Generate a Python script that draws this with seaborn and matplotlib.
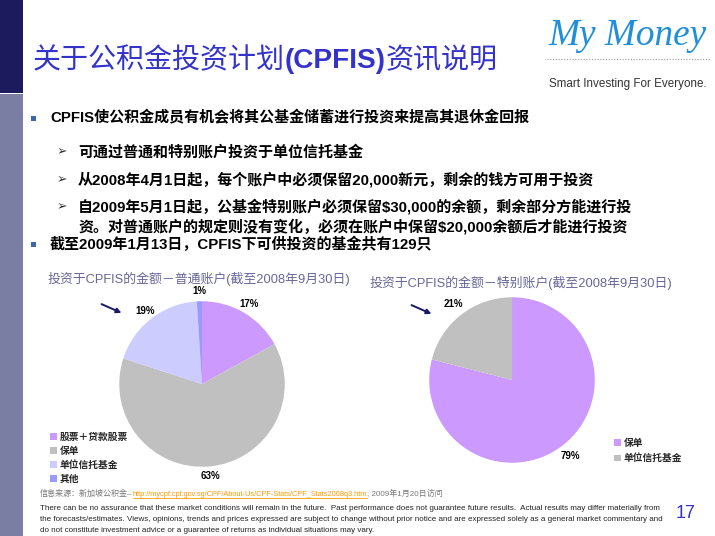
import numpy as np
import pandas as pd
import seaborn as sns
import matplotlib
matplotlib.use("Agg")
import matplotlib.pyplot as plt
from matplotlib.patches import Rectangle, FancyArrowPatch
from matplotlib.lines import Line2D
from matplotlib.font_manager import FontProperties
from matplotlib import font_manager

# ---------------- data ----------------
title_parts = ["关于公积金投资计划", "(CPFIS)", "资讯说明"]
bullet_lines = [
    "CPFIS使公积金成员有机会将其公基金储蓄进行投资来提高其退休金回报",
    "截至2009年1月13日，CPFIS下可供投资的基金共有129只",
]
sub_lines = [
    "可通过普通和特别账户投资于单位信托基金",
    "从2008年4月1日起，每个账户中必须保留20,000新元，剩余的钱方可用于投资",
    "自2009年5月1日起，公基金特别账户必须保留$30,000的余额，剩余部分方能进行投",
]
sub_cont = "资。对普通账户的规定则没有变化，必须在账户中保留$20,000余额后才能进行投资"

left_title = "投资于CPFIS的金额－普通账户(截至2008年9月30日)"
left_labels = ["股票＋贷款股票", "保单", "单位信托基金", "其他"]
left_values = [17, 63, 19, 1]
left_colors = ["#cc99ff", "#c0c0c0", "#ccccff", "#9999ff"]

right_title = "投资于CPFIS的金额－特别账户(截至2008年9月30日)"
right_labels = ["保单", "单位信托基金"]
right_values = [79, 21]
right_colors = ["#cc99ff", "#c0c0c0"]

source_parts = ["信息来源：新加坡公积金–",
                "http://mycpf.cpf.gov.sg/CPF/About-Us/CPF-Stats/CPF_Stats2008q3.htm",
                "; 2009年1月20日访问"]
disclaimer = [
    "There can be no assurance that these market conditions will remain in the future.  Past performance does not guarantee future results.  Actual results may differ materially from",
    "the forecasts/estimates. Views, opinions, trends and prices expressed are subject to change without prior notice and are expressed solely as a general market commentary and",
    "do not constitute investment advice or a guarantee of returns as individual situations may vary.",
]
page_number = "17"
logo_text = "My Money"
logo_sub = "Smart Investing For Everyone."

# ---------------- setup ----------------
sns.set_theme(style="white")
plt.rcParams['font.family'] = ['Liberation Sans', 'Noto Sans CJK SC', 'DejaVu Sans']

names = {f.name for f in font_manager.fontManager.ttflist}
NARROW = 'Liberation Sans Narrow' if 'Liberation Sans Narrow' in names else 'Liberation Sans'

W, H = 715, 536
fig = plt.figure(figsize=(W / 100, H / 100), dpi=100)
fig.patch.set_facecolor('white')
renderer = fig.canvas.get_renderer()


def fx(px):
    return px / W


def fy(py):
    return 1 - py / H


def chain(x, y, parts, va='baseline'):
    cur = x
    out = []
    for s, kw in parts:
        t = fig.text(fx(cur), fy(y), s, ha='left', va=va, **kw)
        bb = t.get_window_extent(renderer)
        cur = bb.x1
        out.append((t, bb))
    return out


def fit_size(s, width, size0, **kw):
    t = fig.text(0, 0, s, fontsize=size0, **kw)
    bb = t.get_window_extent(renderer)
    t.remove()
    return size0 * width / bb.width


# left sidebar
fig.add_artist(Rectangle((0, fy(93)), fx(23), 93 / H, transform=fig.transFigure,
                         facecolor='#1b1b5e', edgecolor='none'))
fig.add_artist(Rectangle((0, 0), fx(23), fy(94), transform=fig.transFigure,
                         facecolor='#7b7ea3', edgecolor='none'))

# title
CJK = ['Noto Sans CJK SC', 'DejaVu Sans']
LAT_CJK = ['Liberation Sans', 'Noto Sans CJK SC', 'DejaVu Sans']
tcol = '#3333cc'
tsize = 20.2
chain(33, 68, [(title_parts[0], dict(family=CJK, fontsize=tsize, color=tcol)),
               (title_parts[1], dict(family=['Liberation Sans'], fontsize=tsize,
                                     fontweight='bold', color=tcol)),
               (title_parts[2], dict(family=CJK, fontsize=tsize, color=tcol))])

# logo
lkw = dict(family=['Liberation Serif'], style='italic', color='#1f8fda')
ls = fit_size(logo_text, 158, 30, **lkw)
fig.text(fx(627), fy(36), logo_text, ha='center', va='center', fontsize=ls, **lkw)
fig.add_artist(Line2D([fx(547), fx(710)], [fy(59), fy(59)], transform=fig.transFigure,
                      color='#999999', lw=0.8, ls=(0, (1, 1.5))))
skw = dict(family=[NARROW], color='#333333')
ss = fit_size(logo_sub, 158, 9, **skw)
fig.text(fx(628), fy(84), logo_sub, ha='center', va='center', fontsize=ss, **skw)

# bullets
bcol = '#3f67ad'
for yy, s in [(118, bullet_lines[0]), (244, bullet_lines[1])]:
    fig.add_artist(Rectangle((fx(31), fy(yy + 2.5)), 5 / W, 5 / H, transform=fig.transFigure,
                             facecolor=bcol, edgecolor='none'))
    fig.text(fx(50), fy(yy), s, ha='left', va='center', fontsize=10.8,
             family=LAT_CJK, fontweight='bold', color='black')

for yy, s in zip([152, 180, 207], sub_lines):
    fig.text(fx(57), fy(yy), "➢", ha='left', va='center', fontsize=9,
             family=['DejaVu Sans'], color='#333333')
    fig.text(fx(78), fy(yy), s, ha='left', va='center', fontsize=10.8,
             family=LAT_CJK, fontweight='bold', color='black')
fig.text(fx(78), fy(227), sub_cont, ha='left', va='center', fontsize=10.8,
         family=LAT_CJK, fontweight='bold', color='black')

# pie titles
pcol = '#666699'
fig.text(fx(48), fy(279), left_title, ha='left', va='center', fontsize=9.3,
         family=LAT_CJK, color=pcol)
fig.text(fx(370), fy(283), right_title, ha='left', va='center', fontsize=9.3,
         family=LAT_CJK, color=pcol)

# pies
R = 120
lim = 1.45
pct_kw = dict(fontsize=7, fontweight='bold', color='black', family=['Liberation Sans'])
leg_prop = FontProperties(family=CJK, weight='bold', size=7)


def pie_axes(cx, cy):
    return fig.add_axes([fx(cx - R), 1 - (cy + R) / H, 2 * R / W, 2 * R / H])


axL = pie_axes(202, 384)
wL, _, autoL = axL.pie(left_values, colors=left_colors, startangle=90, counterclock=False,
                       autopct=lambda p: f"{p:.0f}%", pctdistance=1.12,
                       textprops=pct_kw, wedgeprops=dict(linewidth=0))
axL.set_xlim(-lim, lim)
axL.set_ylim(-lim, lim)
axL.set_aspect('equal')
axL.axis('off')
axL.legend(wL, left_labels, loc='upper left', bbox_to_anchor=(fx(50), fy(432)),
           bbox_transform=fig.transFigure, frameon=False, prop=leg_prop,
           handlelength=0.7, handleheight=0.7, handletextpad=0.3, labelspacing=0.42,
           borderpad=0, borderaxespad=0)

axR = pie_axes(512, 380)
wR, _, _ = axR.pie(right_values, colors=right_colors, startangle=90, counterclock=False,
                   autopct=lambda p: f"{p:.0f}%", pctdistance=1.16,
                   textprops=pct_kw, wedgeprops=dict(linewidth=0))
axR.set_xlim(-lim, lim)
axR.set_ylim(-lim, lim)
axR.set_aspect('equal')
axR.axis('off')
axR.legend(wR, right_labels, loc='upper left', bbox_to_anchor=(fx(614), fy(438)),
           bbox_transform=fig.transFigure, frameon=False, prop=leg_prop,
           handlelength=0.7, handleheight=0.7, handletextpad=0.3, labelspacing=0.55,
           borderpad=0, borderaxespad=0)

# arrows
for (x0, y0, x1, y1) in [(99, 303, 124, 314), (409, 304, 434, 315)]:
    fig.add_artist(FancyArrowPatch((fx(x0), fy(y0)), (fx(x1), fy(y1)),
                                   transform=fig.transFigure, arrowstyle='-|>',
                                   mutation_scale=7, color='#1a1a66', lw=1.4))

# source line
scol = '#777777'
link_kw = dict(family=[NARROW], color='#ff9900')
link_size = fit_size(source_parts[1], 236, 6, **link_kw)
src = chain(40, 496, [(source_parts[0], dict(family=LAT_CJK, fontsize=5.8, color=scol)),
                      (source_parts[1], dict(fontsize=link_size, **link_kw)),
                      (source_parts[2], dict(family=LAT_CJK, fontsize=5.8, color=scol))])
bb = src[1][1]
fig.add_artist(Line2D([bb.x0 / W, bb.x1 / W], [fy(497.5), fy(497.5)],
                      transform=fig.transFigure, color='#ff9900', lw=0.6))

# disclaimer
dkw = dict(family=[NARROW], color='#222222')
dsize = fit_size(disclaimer[0], 620, 5.5, **dkw)
for yy, s in zip([509, 519.5, 530], disclaimer):
    fig.text(fx(40), fy(yy), s, ha='left', va='center', fontsize=dsize, **dkw)

fig.text(fx(686), fy(513), page_number, ha='center', va='center', fontsize=13,
         family=['Liberation Sans'], color='#3333cc')

fig.savefig('out.png', dpi=100)
